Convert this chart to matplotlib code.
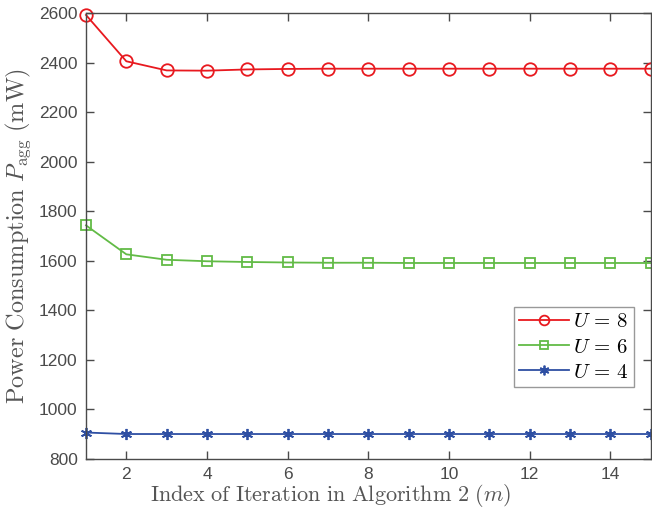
#!/usr/bin/env python3
import numpy as np
import matplotlib
matplotlib.use('Agg')
import matplotlib.pyplot as plt

plt.rcParams['mathtext.fontset'] = 'cm'
plt.rcParams['font.family'] = ['Liberation Sans', 'DejaVu Sans']

# data
iters = np.arange(1, 16)
p_u8 = [2592, 2405, 2368, 2367, 2372, 2374, 2375, 2375, 2375, 2375, 2375, 2375, 2375, 2375, 2375]
p_u6 = [1742, 1625, 1603, 1597, 1594, 1592, 1591, 1591, 1590, 1590, 1590, 1590, 1590, 1590, 1590]
p_u4 = [905, 899, 899, 899, 899, 899, 899, 899, 899, 899, 899, 899, 899, 899, 899]
labels = [r'$U\,=\,8$', r'$U\,=\,6$', r'$U\,=\,4$']

fig = plt.figure(figsize=(6.52, 5.16), dpi=100)
ax = fig.add_axes([0.1319, 0.1114, 0.8658, 0.8634])

asterisk = (6, 2, 0)
ax.plot(iters, p_u8, '-o', color='#e8191f', lw=1.3, ms=9, mfc='none', mew=1.3, label=labels[0], clip_on=False)
ax.plot(iters, p_u6, '-s', color='#62bb46', lw=1.3, ms=7, mfc='none', mew=1.3, label=labels[1], clip_on=False)
ax.plot(iters, p_u4, '-', marker=asterisk, color='#2e4fa3', lw=1.3, ms=8, mew=1.3, label=labels[2], clip_on=False)

ax.set_xlim(1, 15)
ax.set_ylim(800, 2600)
ax.set_xticks(range(2, 15, 2))
ax.set_yticks(range(800, 2601, 200))

gray = '#4a4a4a'
ax.tick_params(direction='in', top=True, right=True, length=6, width=1, labelsize=12.5, colors=gray, pad=6)
for s in ax.spines.values():
    s.set_color(gray)
    s.set_linewidth(1)

ax.set_xlabel(r'$\mathrm{Index\ of\ Iteration\ in\ Algorithm\ 2\ (}m\mathrm{)}$', fontsize=16, color='#555555')
ax.xaxis.set_label_coords(0.434, -0.052)
ax.set_ylabel(r'$\mathrm{Power\ Consumption}\ P_{\mathrm{agg}}\ \mathrm{(mW)}$', fontsize=17.5, color='#555555', labelpad=4)

leg = ax.legend(loc='upper right', bbox_to_anchor=(0.971, 0.340), fontsize=15, frameon=True,
                fancybox=False, edgecolor='#808080', handlelength=2.4, handletextpad=0.2,
                borderpad=0.25, labelspacing=0.3, borderaxespad=0)
leg.get_frame().set_linewidth(1)
for h, ms in zip(leg.legend_handles, [7, 6, 7]):
    h.set_markersize(ms)

fig.savefig('out.png', dpi=100)
